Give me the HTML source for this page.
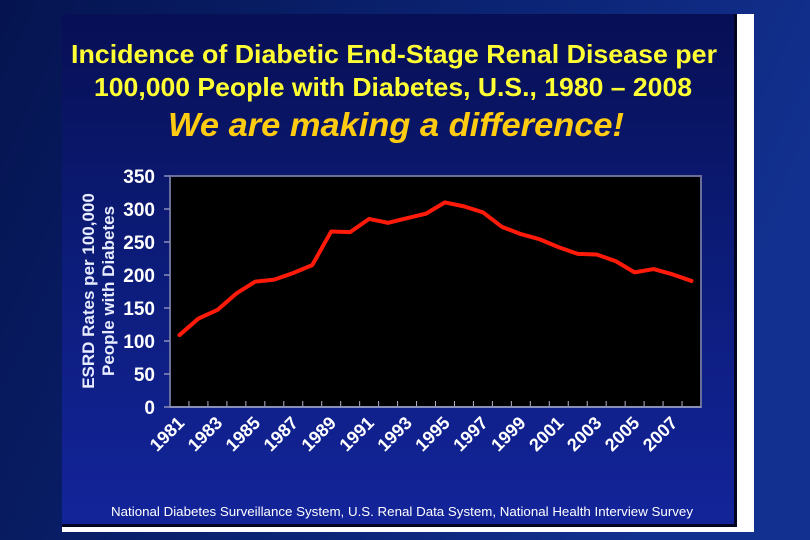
<!DOCTYPE html>
<html><head><meta charset="utf-8"><style>
html,body{margin:0;padding:0;width:810px;height:540px;overflow:hidden;background:#06175a}
svg{display:block}
text{font-family:"Liberation Sans",Arial,sans-serif}
</style></head><body>
<svg width="810" height="540" viewBox="0 0 810 540">
<defs>
<linearGradient id="bg" x1="0" y1="0" x2="1" y2="0.3">
<stop offset="0" stop-color="#051450"/><stop offset="0.6" stop-color="#0b2475"/><stop offset="1" stop-color="#12308f"/></linearGradient>
<linearGradient id="pn" x1="0" y1="0" x2="0" y2="1">
<stop offset="0" stop-color="#070f55"/><stop offset="0.5" stop-color="#0c1c7a"/><stop offset="1" stop-color="#13249a"/></linearGradient>
</defs>
<rect width="810" height="540" fill="url(#bg)"/>
<rect x="62" y="14" width="692" height="518" fill="#ffffff"/>
<rect x="62" y="14" width="675" height="513" fill="#02051f"/>
<rect x="62" y="14" width="672" height="510" fill="url(#pn)"/>
<text x="394" y="63" text-anchor="middle" fill="#ffff33" font-weight="bold" font-size="26" textLength="646" lengthAdjust="spacingAndGlyphs">Incidence of Diabetic End-Stage Renal Disease per</text>
<text x="393" y="96" text-anchor="middle" fill="#ffff33" font-weight="bold" font-size="26" textLength="598" lengthAdjust="spacingAndGlyphs">100,000 People with Diabetes, U.S., 1980 – 2008</text>
<text x="396" y="136" text-anchor="middle" fill="#ffcc11" font-weight="bold" font-style="italic" font-size="33" textLength="456" lengthAdjust="spacingAndGlyphs">We are making a difference!</text>
<g id="chart"></g>
<text x="402" y="516" text-anchor="middle" fill="#ffffff" font-size="13" textLength="582" lengthAdjust="spacingAndGlyphs">National Diabetes Surveillance System, U.S. Renal Data System, National Health Interview Survey</text>
</svg>
<script>
const years=[1981,1982,1983,1984,1985,1986,1987,1988,1989,1990,1991,1992,1993,1994,1995,1996,1997,1998,1999,2000,2001,2002,2003,2004,2005,2006,2007,2008];
const rates=[109,134,147,172,190,193,203,215,266,265,285,279,286,293,310,304,295,273,262,254,242,232,231,221,204,209,201,191];
const yTicks=[0,50,100,150,200,250,300,350];
const xLabelYears=[1981,1983,1985,1987,1989,1991,1993,1995,1997,1999,2001,2003,2005,2007];
const NS='http://www.w3.org/2000/svg';
const L=170,R=701,T=176,B=407,yMax=350;
const band=(R-L)/years.length;
const xs=i=>L+(i+0.5)*band;
const ys=v=>B-(v/yMax)*(B-T);
const g=document.getElementById('chart');
function mk(tag,attrs){const e=document.createElementNS(NS,tag);for(const k in attrs)e.setAttribute(k,attrs[k]);g.appendChild(e);return e;}
let e=mk('rect',{x:L,y:T,width:R-L,height:B-T,fill:'#000',stroke:'#6a6f9a','stroke-width':2});


yTicks.forEach(v=>{
 let t=mk('line',{x1:L-6,x2:L,y1:ys(v),y2:ys(v),stroke:'#8a8fb8','stroke-width':1.5});
 
 
 let tx=mk('text',{x:155,y:ys(v)+7,'text-anchor':'end',fill:'#fff','font-weight':'bold','font-size':19});
 tx.textContent=v;
 
 
});
for(let i=1;i<years.length;i++){
 let t=mk('line',{x1:L+i*band,x2:L+i*band,y1:B,y2:B-6,stroke:'#b0b4d0','stroke-width':1});
 
 
}
let ax=mk('line',{x1:L,x2:R,y1:B,y2:B,stroke:'#8a8fb8','stroke-width':2});


xLabelYears.forEach(y=>{
 const i=years.indexOf(y);const x=xs(i)+6,yy=B+17;
 let tx=mk('text',{x:x,y:yy,'text-anchor':'end',fill:'#fff','font-weight':'bold','font-size':18,transform:`rotate(-45 ${x} ${yy})`});
 tx.textContent=y;
 
 
});
let p=mk('polyline',{points:rates.map((v,i)=>xs(i)+','+ys(v)).join(' '),fill:'none',stroke:'#ff1a0a','stroke-width':4,'stroke-linejoin':'round','stroke-linecap':'round'});


let a1=mk('text',{x:0,y:0,'text-anchor':'middle',fill:'#e8ecff','font-weight':'bold','font-size':17,transform:'translate(94 291) rotate(-90)'});
a1.textContent='ESRD Rates per 100,000';


let a2=mk('text',{x:0,y:0,'text-anchor':'middle',fill:'#e8ecff','font-weight':'bold','font-size':17,transform:'translate(114 291) rotate(-90)'});
a2.textContent='People with Diabetes';


</script>
</body></html>
